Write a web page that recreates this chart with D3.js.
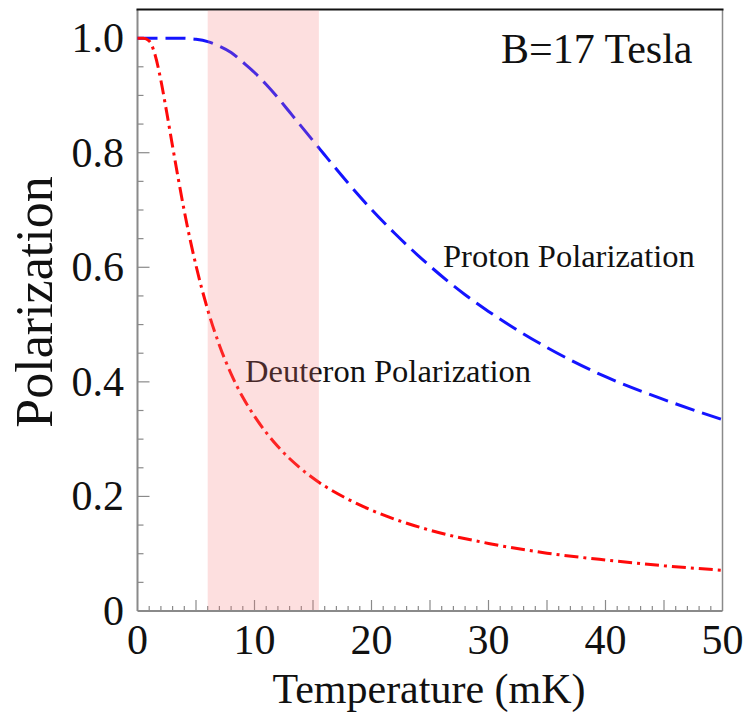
<!DOCTYPE html>
<html>
<head>
<meta charset="utf-8">
<script src="https://cdn.jsdelivr.net/npm/d3@7"></script>
<style>
  html, body { margin: 0; padding: 0; background: #fff; }
  svg { display: block; }
  text { font-family: "Liberation Serif", "DejaVu Serif", serif; fill: #111; }
</style>
</head>
<body>
<svg id="chart" width="749" height="714"></svg>
<script>
// Temperature in mK
const protonT = [0, 1, 2, 3, 4, 5, 6, 7, 8, 9, 10, 11, 12, 13, 14, 15, 16, 18, 20, 22, 25, 28, 30, 35, 40, 45, 50];
const protonP = [1.0, 1.0, 1.0, 1.0, 0.9997, 0.998, 0.994, 0.986, 0.975, 0.958, 0.940, 0.919, 0.896, 0.871, 0.846, 0.821, 0.796, 0.747, 0.701, 0.659, 0.602, 0.552, 0.523, 0.460, 0.409, 0.369, 0.334];

const deuteronT = [0, 0.5, 1, 1.5, 2, 2.5, 3, 3.5, 4, 5, 6, 7, 8, 9, 10, 12, 14, 16, 18, 20, 25, 30, 35, 40, 45, 50];
const deuteronP = [1.0, 1.0, 0.995, 0.971, 0.926, 0.870, 0.811, 0.753, 0.698, 0.603, 0.526, 0.464, 0.414, 0.373, 0.340, 0.287, 0.248, 0.218, 0.195, 0.176, 0.141, 0.118, 0.101, 0.089, 0.079, 0.071];

// shaded temperature window (mK)
const bandRange = [6, 15.5];

const xTickValues = [0, 10, 20, 30, 40, 50];
const yTickValues = [0, 0.2, 0.4, 0.6, 0.8, 1.0];
const yTickLabels = ["0", "0.2", "0.4", "0.6", "0.8", "1.0"];

const svg = d3.select("#chart");
const plotLeft = 137.5, plotRight = 722.5, plotTop = 9.5, plotBottom = 611;

const x = d3.scaleLinear().domain([0, 50]).range([plotLeft, plotRight]);
const y = d3.scaleLinear().domain([0, 1.05]).range([plotBottom, plotTop]);

const axisGray = "#8a8a8a";

// minor / major ticks along the bottom edge (pointing inward)
const xMinor = d3.range(1, 50, 1).filter(v => v % 5 !== 0);
const xMajor = d3.range(5, 50, 5);
svg.append("g").selectAll("line").data(xMinor).join("line")
  .attr("x1", d => x(d)).attr("x2", d => x(d))
  .attr("y1", plotBottom).attr("y2", plotBottom - 5)
  .attr("stroke", axisGray).attr("stroke-width", 1.2);
svg.append("g").selectAll("line").data(xMajor).join("line")
  .attr("x1", d => x(d)).attr("x2", d => x(d))
  .attr("y1", plotBottom).attr("y2", plotBottom - 11)
  .attr("stroke", axisGray).attr("stroke-width", 1.2);

// ticks along the left edge
const yMinor = d3.range(1, 21).map(i => i * 0.05).filter(v => Math.abs(v / 0.2 - Math.round(v / 0.2)) > 1e-6);
const yMajor = [0.2, 0.4, 0.6, 0.8, 1.0];
svg.append("g").selectAll("line").data(yMinor).join("line")
  .attr("x1", plotLeft).attr("x2", plotLeft + 6)
  .attr("y1", d => y(d)).attr("y2", d => y(d))
  .attr("stroke", axisGray).attr("stroke-width", 1.2);
svg.append("g").selectAll("line").data(yMajor).join("line")
  .attr("x1", plotLeft).attr("x2", plotLeft + 12)
  .attr("y1", d => y(d)).attr("y2", d => y(d))
  .attr("stroke", axisGray).attr("stroke-width", 1.2);

// frame
svg.append("line").attr("x1", plotLeft).attr("x2", plotLeft).attr("y1", plotTop).attr("y2", plotBottom)
  .attr("stroke", axisGray).attr("stroke-width", 2);
svg.append("line").attr("x1", plotLeft).attr("x2", plotRight).attr("y1", plotBottom).attr("y2", plotBottom)
  .attr("stroke", axisGray).attr("stroke-width", 2);
svg.append("line").attr("x1", plotRight).attr("x2", plotRight).attr("y1", plotTop).attr("y2", plotBottom)
  .attr("stroke", axisGray).attr("stroke-width", 1.5);
svg.append("line").attr("x1", plotLeft - 1).attr("x2", plotRight + 1).attr("y1", plotTop).attr("y2", plotTop)
  .attr("stroke", "#111").attr("stroke-width", 2);

// curves
const line = d3.line().x(d => x(d[0])).y(d => y(d[1])).curve(d3.curveMonotoneX);

svg.append("path")
  .datum(protonT.map((t, i) => [t, protonP[i]]))
  .attr("d", line)
  .attr("fill", "none")
  .attr("stroke", "#1414ff")
  .attr("stroke-width", 3)
  .attr("stroke-dasharray", "20,8");

svg.append("path")
  .datum(deuteronT.map((t, i) => [t, deuteronP[i]]))
  .attr("d", line)
  .attr("fill", "none")
  .attr("stroke", "#ff0a0a")
  .attr("stroke-width", 3)
  .attr("stroke-dasharray", "14,5,3,5");

// annotations
svg.append("text").attr("x", 501).attr("y", 62.5)
  .attr("font-size", 42).text("B=17 Tesla");
svg.append("text").attr("x", 443).attr("y", 266.5)
  .attr("font-size", 32.5).text("Proton Polarization");
svg.append("text").attr("x", 245).attr("y", 382)
  .attr("font-size", 32.5).text("Deuteron Polarization");

// translucent band over the window
svg.append("rect")
  .attr("x", x(bandRange[0])).attr("width", x(bandRange[1]) - x(bandRange[0]))
  .attr("y", plotTop + 1).attr("height", plotBottom - plotTop - 2)
  .attr("fill", "rgb(245,120,120)").attr("fill-opacity", 0.24);

// tick labels
svg.append("g").selectAll("text").data(xTickValues).join("text")
  .attr("x", d => x(d)).attr("y", 654)
  .attr("text-anchor", "middle").attr("font-size", 42)
  .text(d => d);
svg.append("g").selectAll("text").data(yTickValues).join("text")
  .attr("x", 124).attr("y", d => y(d) + 14)
  .attr("text-anchor", "end").attr("font-size", 42)
  .text((d, i) => yTickLabels[i]);

// axis titles
svg.append("text").attr("x", 429).attr("y", 703)
  .attr("text-anchor", "middle").attr("font-size", 42)
  .text("Temperature (mK)");
svg.append("text")
  .attr("transform", "translate(52,302) rotate(-90)")
  .attr("text-anchor", "middle").attr("font-size", 52)
  .text("Polarization");
</script>
</body>
</html>
